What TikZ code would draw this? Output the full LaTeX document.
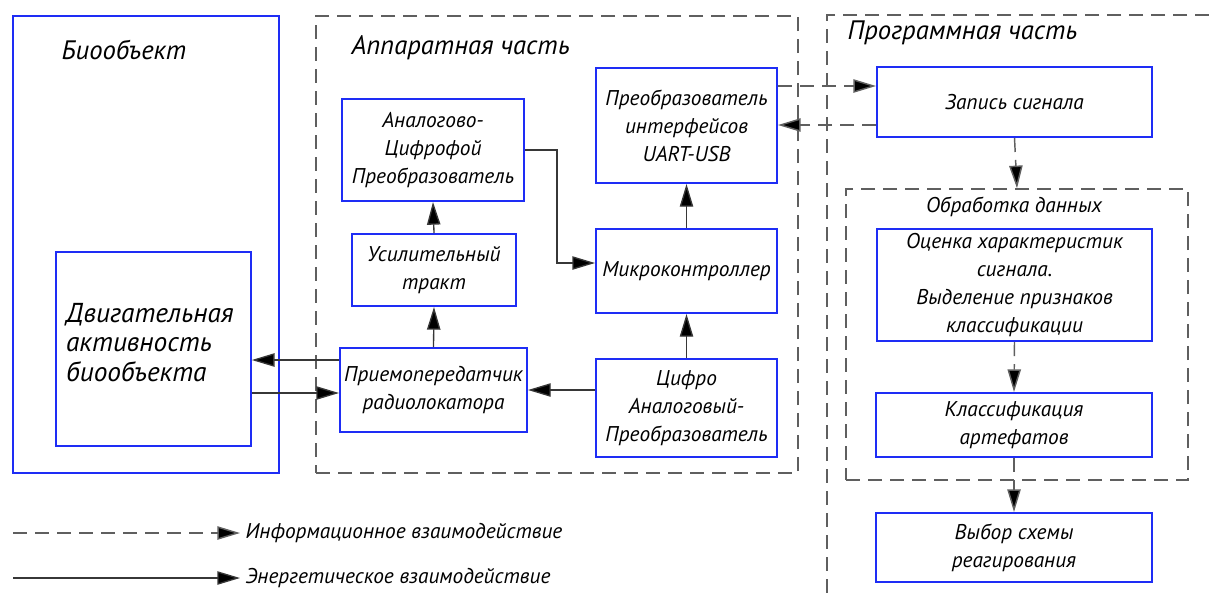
\documentclass[tikz,border=0pt]{standalone}
\usepackage{fontspec}
\setmainfont{PT Sans}
\usetikzlibrary{arrows.meta}
\definecolor{boxblue}{RGB}{30,45,245}
\definecolor{linegray}{RGB}{55,55,55}
\definecolor{dashgray}{RGB}{95,95,95}
\begin{document}
\begin{tikzpicture}[
  x=0.75pt, y=-0.75pt,
  every node/.style={font=\itshape\fontsize{16}{21}\selectfont, align=center},
  block/.style={draw=boxblue, line width=1.5pt, inner sep=3pt},
  group/.style={draw=dashgray, line width=1.1pt, dash pattern=on 10.5pt off 6pt},
  title/.style={font=\itshape\fontsize{20}{24}\selectfont},
  energy edge/.style={draw=linegray, line width=1pt, -{Triangle[length=17pt,width=10pt,fill=black]}},
  info edge/.style={draw=dashgray, line width=1.1pt, dash pattern=on 10.5pt off 6pt, -{Triangle[length=17pt,width=10pt,fill=black]}}
]
\useasboundingbox (0,0) rectangle (1209,594);
% Define the groups
\node[block, minimum width=199.5pt, minimum height=342.75pt] (bio) at (146,244.5) {};
\node[title] (biotitle) at (124,50) {Биообъект};
\node[group, minimum width=361.5pt, minimum height=342.75pt] (hw) at (557,244.5) {};
\node[title, anchor=west] (hwtitle) at (347,48) {Аппаратная часть};
\draw[group] (1209,15) -- (827,15) -- (827,594);
\node[title, anchor=west] (swtitle) at (843,33) {Программная часть};
\node[group, minimum width=256.5pt, minimum height=218.25pt] (proc) at (1017,334.5) {};
\node (proctitle) at (1014,207) {Обработка данных};
% Define the nodes
\node[block, align=left, text width=131pt, inner xsep=7.5pt, minimum height=145.5pt, text depth=54pt,
  font=\itshape\fontsize{20.5}{22}\selectfont] (motor) at (153.5,349) {Двигательная\\активность\\биообъекта};
\node[block, minimum width=136.5pt, minimum height=76.5pt] (adc) at (433,150) {Аналогово-\\Цифрофой\\Преобразователь};
\node[block, minimum width=123pt, minimum height=54pt] (amp) at (434,270) {Усилительный\\тракт};
\node[block, minimum width=140.25pt, minimum height=63pt] (xcvr) at (433.5,390) {Приемопередатчик\\радиолокатора};
\node[block, minimum width=135.75pt, minimum height=86.25pt] (uart) at (686.5,125.5) {Преобразователь\\интерфейсов\\UART-USB};
\node[block, minimum width=135.75pt, minimum height=63pt] (mcu) at (686.5,271) {Микроконтроллер};
\node[block, minimum width=135.75pt, minimum height=73.5pt] (dac) at (686.5,408) {Цифро\\Аналоговый-\\Преобразователь};
\node[block, minimum width=206.25pt, minimum height=52.5pt] (record) at (1014.5,102) {Запись сигнала};
\node[block, minimum width=206.25pt, minimum height=84pt] (estimate) at (1014.5,285) {Оценка характеристик\\сигнала.\\Выделение признаков\\классификации};
\node[block, minimum width=207pt, minimum height=48pt] (classif) at (1014,425) {Классификация\\артефатов};
\node[block, minimum width=207pt, minimum height=51.75pt] (choice) at (1014,547.5) {Выбор схемы\\реагирования};
% Define the legend
\coordinate (infostart) at (13,533);
\coordinate (energystart) at (13,578);
\node[anchor=west, inner sep=4pt] (infolabel) at (240,533) {Информационное взаимодействие};
\node[anchor=west, inner sep=4pt] (energylabel) at (240,578) {Энергетическое взаимодействие};
% Define the edges
\path[energy edge] (xcvr.west |- 0,360) -- (motor.east |- 0,360);
\path[energy edge] (motor.east |- 0,393) -- (xcvr.west |- 0,393);
\path[energy edge] (xcvr.north) -- (amp.south);
\path[energy edge] (amp.north) -- (adc.south);
\path[energy edge] (adc.east) -- (557,150) |- (mcu.west |- 0,263);
\path[energy edge] (dac.north) -- (mcu.south);
\path[energy edge] (mcu.north) -- (uart.south);
\path[energy edge] (dac.west |- xcvr.east) -- (xcvr.east);
\path[info edge] (uart.east |- 0,86) -- (record.west |- 0,86);
\path[info edge] (record.west |- 0,125) -- (uart.east |- 0,125);
\path[info edge] (record.south) -- (proc.north);
\path[info edge] (estimate.south) -- (classif.north);
\path[info edge] (classif.south) -- (choice.north);
\path[info edge] (infostart) -- (infolabel.west);
\path[energy edge] (energystart) -- (energylabel.west);
\end{tikzpicture}
\end{document}
